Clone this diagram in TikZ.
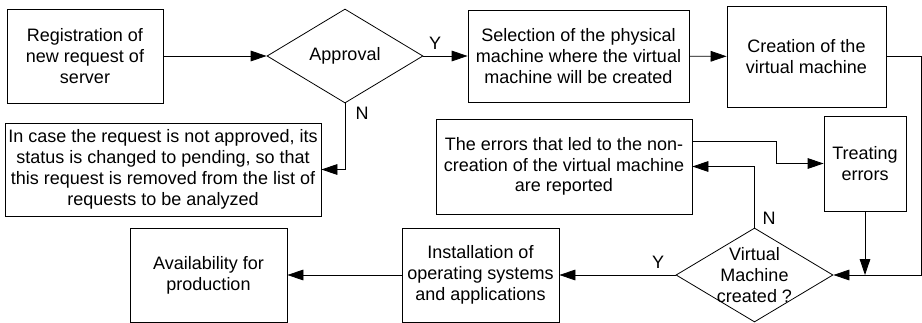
\documentclass[tikz,border=0pt]{standalone}
\usepackage{fontspec}
\setmainfont{Liberation Sans}
\usetikzlibrary{shapes.geometric,arrows.meta}

\begin{document}
\begin{tikzpicture}[x=0.75pt,y=-0.75pt,
	every node/.style={font=\fontsize{13.5}{15.6}\selectfont,align=center},
	sz/.style 2 args={minimum width=#1*0.75pt,minimum height=#2*0.75pt},
	box/.style={draw,rectangle,inner sep=0pt},
	decision/.style={draw,diamond,inner sep=0pt},
	arr/.style={-{Triangle[length=12pt,width=8pt]}},
	lbl/.style={inner sep=1pt}]
	\useasboundingbox (0,0) rectangle (922,322);
	\tikzset{every path/.style={line width=0.6pt}}

	    % top row
	    \node[box,sz={156}{94}] (reg) at (85,56) {Registration of\\new request of\\server};
	    \node[decision,sz={156}{94}] (appr) at (345,56) {};
	    \node (apprtxt) at (appr) {Approval};
	    \node[box,sz={221}{92}] (sel) at (578.5,56) {Selection of the physical\\machine where the virtual\\machine will be created};
	    \node[box,sz={159}{101}] (crea) at (806.5,56.5) {Creation of the\\virtual machine};

	    % middle row
	    \node[box,sz={316}{93}] (incase) at (163,169.5) {In case the request is not approved, its\\status is changed to pending, so that\\this request is removed from the list of\\requests to be analyzed};
	    \node[box,sz={256}{95}] (errs) at (564,166.5) {The errors that led to the non-\\creation of the virtual machine\\are reported};
	    \node[box,sz={82}{95}] (treat) at (865,163.5) {Treating\\errors};

	    % bottom row
	    \node[box,sz={157}{94}] (avail) at (208.5,275) {Availability for\\production};
	    \node[box,sz={157}{94}] (inst) at (480.5,275) {Installation of\\operating systems\\and applications};
	    \node[decision,sz={157}{94}] (vm) at (754.5,275) {};
	    \node (vmtxt) at (vm) {Virtual\\Machine\\created ?};

	    \draw[arr] (reg) -- (appr);
	    \draw[arr] (appr) -- (sel);
	    \node[lbl] (y1) at (435,43) {Y};
	    \draw[arr] (sel) -- (crea);
	    \draw[arr] (crea.east) -- ++(35,0) |- (vm.east);
	    \draw[arr] (appr.south) |- (incase.east);
	    \node[lbl] (n1) at (362,113) {N};

	    \draw[arr] (errs.north east) ++(0,23) -- ++(84,0) |- (treat.west);
	    \draw[arr] (vm.north) |- (errs.east);
	    \node[lbl] (n2) at (769,218) {N};
	    \draw[arr] (treat.south) -- (treat.south |- vm.east);

	    \draw[arr] (vm) -- (inst);
	    \node[lbl] (y2) at (658,262) {Y};
	    \draw[arr] (inst) -- (avail);

	\end{tikzpicture}
\end{document}
